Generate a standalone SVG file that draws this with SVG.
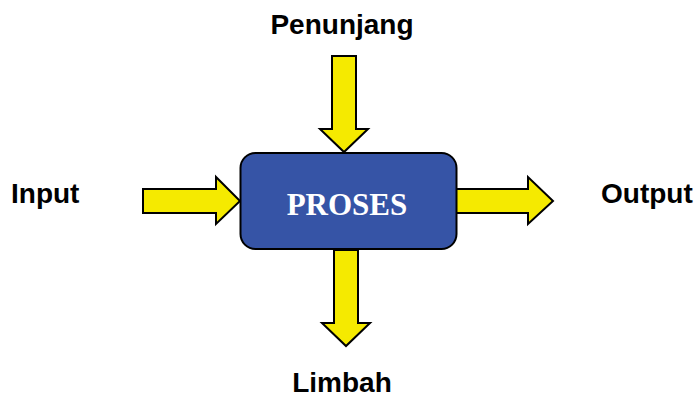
<svg xmlns="http://www.w3.org/2000/svg" width="699" height="397" viewBox="0 0 699 397">
<style>
.arrow{fill:#F5EA00;stroke:#000;stroke-width:2;stroke-linejoin:miter}
.box{fill:#3654A6;stroke:#000;stroke-width:2}
.lbl{font-family:"Liberation Sans",Arial,sans-serif;font-weight:bold;font-size:28px;fill:#000}
.title{font-family:"Liberation Serif","Times New Roman",serif;font-weight:bold;font-size:31px;fill:#fff}
</style>
<rect width="699" height="397" fill="#fff"/>
<g id="connectors">
<polygon id="arrow-penunjang" class="arrow" points="332,56 356,56 356,129 368,129 344,152 320,129 332,129"/>
<polygon id="arrow-input" class="arrow" points="143,189 216,189 216,177 240,201 216,224 216,213 143,213"/>
<polygon id="arrow-output" class="arrow" points="456,189 528,189 528,177 553,201 528,224 528,213 456,213"/>
<polygon id="arrow-limbah" class="arrow" points="334,250 358,250 358,323 370,323 346,346 322,323 334,323"/>
</g>
<g id="node-proses">
<rect class="box" x="240.5" y="153" width="216" height="96" rx="15" ry="15"/>
<text class="title" x="347" y="215" text-anchor="middle">PROSES</text>
</g>
<g id="node-penunjang"><text class="lbl" x="342" y="34" text-anchor="middle">Penunjang</text></g>
<g id="node-input"><text class="lbl" x="11" y="203">Input</text></g>
<g id="node-output"><text class="lbl" x="601" y="203">Output</text></g>
<g id="node-limbah"><text class="lbl" x="342" y="392" text-anchor="middle">Limbah</text></g>
</svg>
